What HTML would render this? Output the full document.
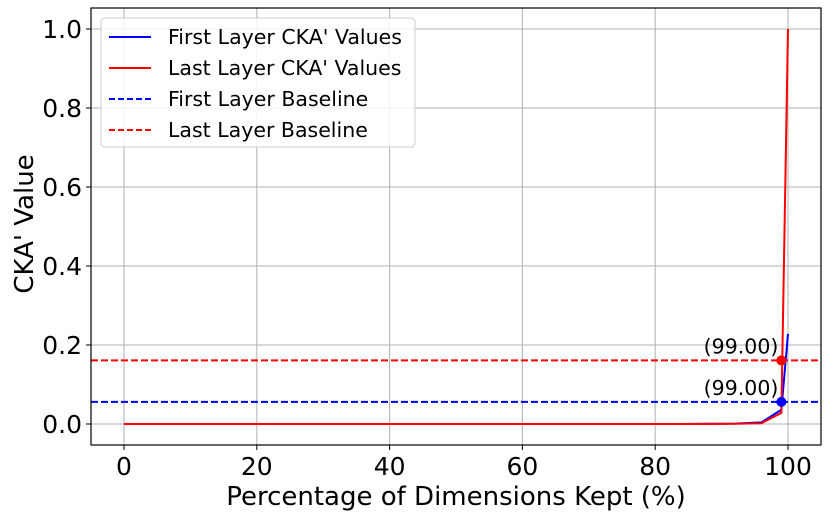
<!DOCTYPE html>
<html><head><meta charset="utf-8"><style>
body{margin:0;background:#fff}
svg{font-family:"DejaVu Sans","Liberation Sans",sans-serif}
</style></head><body>
<svg id="chart" width="830" height="519" viewBox="0 0 830 519"></svg>
<script>
const xs=[0,20,40,60,80,84,88,92,96,99,100];
const firstVals=[0,0,0,0,0,0,0.0005,0.001,0.004,0.036,0.228];
const lastVals=[0,0,0,0,0,0,0,0.0005,0.002,0.028,1.0];
const firstBaseline=0.056, lastBaseline=0.161;
const xTicks=[0,20,40,60,80,100];
const yTicks=[0,0.2,0.4,0.6,0.8,1.0];
const markers=[{x:99,y:0.161,c:'#ff0000',label:'(99.00)'},{x:99,y:0.056,c:'#0000ff',label:'(99.00)'}];
const L=91,R=821,T=8,B=445;
const X=v=>124+v*6.64, Y=v=>424-v*395;
const s=document.getElementById('chart');const NS='http://www.w3.org/2000/svg';
function add(t,a,txt){const e=document.createElementNS(NS,t);for(const k in a)e.setAttribute(k,a[k]);if(txt!==undefined)e.textContent=txt;s.appendChild(e);return e;}
xTicks.forEach(v=>{let g=add('line',{x1:X(v),x2:X(v),y1:T,y2:B,stroke:'#b0b0b0','stroke-width':1});
add('line',{x1:X(v),x2:X(v),y1:B,y2:B+5,stroke:'#000'});
let t=add('text',{x:X(v),y:B+30,'font-size':25,'text-anchor':'middle'},String(v));});
yTicks.forEach(v=>{let g=add('line',{x1:L,x2:R,y1:Y(v),y2:Y(v),stroke:'#b0b0b0','stroke-width':1});
add('line',{x1:L-5,x2:L,y1:Y(v),y2:Y(v),stroke:'#000'});
let t=add('text',{x:L-9,y:Y(v)+9,'font-size':25,'text-anchor':'end'},v.toFixed(1));});
let b1=add('line',{x1:L,x2:R,y1:Y(lastBaseline),y2:Y(lastBaseline),stroke:'#ff0000','stroke-width':2,'stroke-dasharray':'7,3'});
let b2=add('line',{x1:L,x2:R,y1:Y(firstBaseline),y2:Y(firstBaseline),stroke:'#0000ff','stroke-width':2,'stroke-dasharray':'7,3'});
let p1=add('polyline',{points:xs.map((x,i)=>X(x)+','+Y(firstVals[i])).join(' '),fill:'none',stroke:'#0000ff','stroke-width':2});
let p2=add('polyline',{points:xs.map((x,i)=>X(x)+','+Y(lastVals[i])).join(' '),fill:'none',stroke:'#ff0000','stroke-width':2});
markers.forEach(m=>{let c=add('circle',{cx:X(m.x),cy:Y(m.y),r:5,fill:m.c});
let t=add('text',{x:X(m.x)-3,y:Y(m.y)-7,'font-size':20.5,'text-anchor':'end'},m.label);});
let fr=add('rect',{x:L,y:T,width:R-L,height:B-T,fill:'none',stroke:'#000','stroke-width':1.2});
let lg=add('rect',{x:101,y:18,width:314,height:129,rx:4,fill:'#fff','fill-opacity':0.85,stroke:'#ccc'});
[['First Layer CKA\' Values','#0000ff',''],['Last Layer CKA\' Values','#ff0000',''],['First Layer Baseline','#0000ff','6,3'],['Last Layer Baseline','#ff0000','6,3']].forEach((e,i)=>{const y=37+i*31;
add('line',{x1:109,x2:151,y1:y,y2:y,stroke:e[1],'stroke-width':2,'stroke-dasharray':e[2]||'none'});
let t=add('text',{x:168,y:y+7,'font-size':20.5},e[0]);});
let xt=add('text',{x:456,y:505,'font-size':26,'text-anchor':'middle'},'Percentage of Dimensions Kept (%)');
let yt=add('text',{x:0,y:0,'font-size':26,'text-anchor':'middle',transform:'translate(33,224) rotate(-90)'},"CKA' Value");
</script></body></html>
